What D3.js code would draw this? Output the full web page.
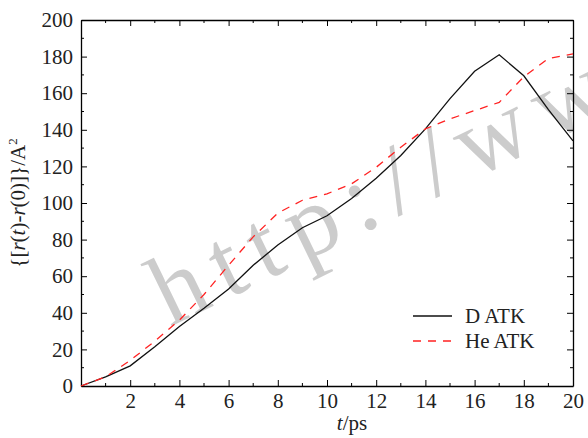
<!DOCTYPE html>
<html>
<head>
<meta charset="utf-8">
<script src="https://cdn.jsdelivr.net/npm/d3@7"></script>
<style>
  body { margin: 0; background: #fff; }
  svg { display: block; }
  svg text { font-family: "Liberation Serif", "Times New Roman", Times, serif; }
</style>
</head>
<body>
<div id="graph-container"></div>
<script>
const width = 588, height = 438;

// time in ps
const times = [0, 1, 2, 3, 4, 5, 6, 7, 8, 9, 10, 11, 12, 13, 14, 15, 16, 17, 18, 19, 20];
const dATK  = [0, 5, 11, 21.5, 32.5, 42.5, 53, 66, 77, 86.5, 93, 102.5, 113.5, 126, 140.5, 157, 172, 181, 169.5, 151, 134];
const heATK = [0, 5, 14, 24.5, 36, 50, 66, 81.5, 94.5, 101.5, 105, 110.5, 119.5, 130.5, 140.5, 146, 150.5, 155, 169, 179, 181.5];

const xTicks = [2, 4, 6, 8, 10, 12, 14, 16, 18, 20];
const yTicks = [0, 20, 40, 60, 80, 100, 120, 140, 160, 180, 200];
const seriesNames = ["D ATK", "He ATK"];

const margin = {left: 81, right: 15, top: 20, bottom: 52};
const fs = 21;

const x = d3.scaleLinear().domain([0, 20]).range([margin.left, width - margin.right]);
const y = d3.scaleLinear().domain([0, 200]).range([height - margin.bottom, margin.top]);

const svg = d3.select("#graph-container").append("svg")
  .attr("width", width)
  .attr("height", height)
  .attr("viewBox", [0, 0, width, height]);

// watermark
svg.append("text")
  .attr("transform", `translate(170,327) rotate(-26)`)
  .attr("fill", "#cccccc")
  .attr("font-size", 100)
  .attr("letter-spacing", 14)
  .text("http://www");

const minorX = d3.range(1, 20, 2);
const minorY = d3.range(10, 200, 20);

// minor ticks (all four sides, inward)
const minor = svg.append("g").attr("stroke", "#000").attr("stroke-width", 1);
minorX.forEach(v => {
  minor.append("line").attr("x1", x(v)).attr("x2", x(v)).attr("y1", y(0)).attr("y2", y(0) - 3);
  minor.append("line").attr("x1", x(v)).attr("x2", x(v)).attr("y1", y(200)).attr("y2", y(200) + 3);
});
minorY.forEach(v => {
  minor.append("line").attr("x1", x(0)).attr("x2", x(0) + 3).attr("y1", y(v)).attr("y2", y(v));
  minor.append("line").attr("x1", x(20)).attr("x2", x(20) - 3).attr("y1", y(v)).attr("y2", y(v));
});

const styleAxis = g => {
  g.attr("font-family", null);
  g.selectAll("text").attr("font-size", fs).attr("fill", "#222");
  g.selectAll("line").attr("stroke", "#000");
  g.select(".domain").attr("stroke", "#000").attr("stroke-width", 1.3);
};

svg.append("g")
  .attr("transform", `translate(0,${y(0)})`)
  .call(d3.axisBottom(x).tickValues(xTicks).tickSize(-6).tickSizeOuter(0).tickPadding(7))
  .call(styleAxis);

svg.append("g")
  .attr("transform", `translate(0,${y(200)})`)
  .call(d3.axisTop(x).tickValues(xTicks).tickSize(-6).tickSizeOuter(0).tickFormat(""))
  .call(styleAxis);

svg.append("g")
  .attr("transform", `translate(${x(0)},0)`)
  .call(d3.axisLeft(y).tickValues(yTicks).tickSize(-6).tickSizeOuter(0).tickPadding(8))
  .call(styleAxis);

svg.append("g")
  .attr("transform", `translate(${x(20)},0)`)
  .call(d3.axisRight(y).tickValues(yTicks).tickSize(-6).tickSizeOuter(0).tickFormat(""))
  .call(styleAxis);

// lines
const line = d3.line()
  .x((d, i) => x(times[i]))
  .y(d => y(d));

svg.append("path")
  .datum(dATK)
  .attr("fill", "none")
  .attr("stroke", "#111")
  .attr("stroke-width", 1.3)
  .attr("d", line);

svg.append("path")
  .datum(heATK)
  .attr("fill", "none")
  .attr("stroke", "#f22")
  .attr("stroke-width", 1.3)
  .attr("stroke-dasharray", "8,7")
  .attr("d", line);

// legend
const legend = svg.append("g");
[["#111", null], ["#f22", "8,7"]].forEach(([c, dash], i) => {
  const ly = 316 + i * 25;
  legend.append("line")
    .attr("x1", 413).attr("x2", 452).attr("y1", ly).attr("y2", ly)
    .attr("stroke", c).attr("stroke-width", 1.3)
    .attr("stroke-dasharray", dash);
  legend.append("text")
    .attr("x", 465).attr("y", ly + 7)
    .attr("font-size", fs).attr("fill", "#222")
    .text(seriesNames[i]);
});

// axis titles
const xt = svg.append("text")
  .attr("x", 352)
  .attr("y", 430)
  .attr("text-anchor", "middle")
  .attr("font-size", fs).attr("fill", "#222");
xt.append("tspan").attr("font-style", "italic").text("t");
xt.append("tspan").text("/ps");

const yt = svg.append("text")
  .attr("transform", `translate(25,${(y(0) + y(200)) / 2}) rotate(-90)`)
  .attr("text-anchor", "middle")
  .attr("font-size", fs).attr("fill", "#222");
yt.append("tspan").text("{[");
yt.append("tspan").attr("font-style", "italic").text("r");
yt.append("tspan").text("(");
yt.append("tspan").attr("font-style", "italic").text("t");
yt.append("tspan").text(")-");
yt.append("tspan").attr("font-style", "italic").text("r");
yt.append("tspan").text("(0)]}/A");
yt.append("tspan").attr("font-size", 13).attr("dy", -8).text("2");
</script>
</body>
</html>
